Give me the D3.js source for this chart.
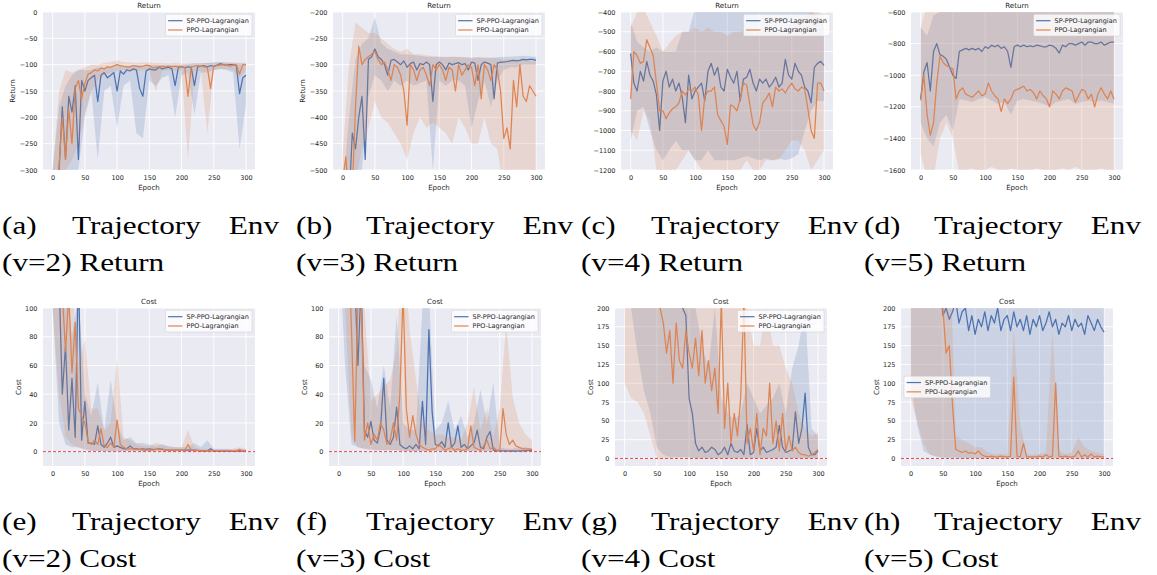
<!DOCTYPE html>
<html>
<head>
<meta charset="utf-8">
<script src="https://cdn.jsdelivr.net/npm/d3@7"></script>
<style>
  body { margin: 0; background: #fff; }
  svg { display: block; }
</style>
</head>
<body>
<div id="wrapper"></div>
<script>
// epochs of the sampled curves, and of the sampled shaded bands
const epochs = d3.range(0, 301, 5);
const bandEpochs = d3.range(0, 301, 10);
const xTicks = [0, 50, 100, 150, 200, 250, 300];
const seriesNames = ['SP-PPO-Lagrangian', 'PPO-Lagrangian'];

// ---- (a) Return, v=2
const retSp2 = [-400,-380,-300,-180,-280,-160,-190,-140,-280,-130,
  -150,-130,-125,-120,-170,-120,-115,-125,-120,-115,
  -150,-112,-118,-110,-112,-108,-110,-145,-160,-112,
  -108,-110,-110,-105,-108,-106,-105,-108,-140,-105,
  -104,-106,-104,-105,-140,-104,-103,-102,-104,-102,
  -103,-101,-98,-100,-101,-100,-100,-102,-155,-125, -120];
const retPpo2 = [-400,-380,-290,-200,-280,-185,-250,-145,-130,-165,
  -135,-118,-115,-110,-112,-106,-108,-104,-105,-102,
  -100,-102,-103,-104,-104,-102,-103,-104,-103,-101,
  -102,-106,-105,-104,-103,-104,-103,-104,-103,-104,
  -104,-105,-160,-104,-103,-102,-103,-104,-105,-145,
  -103,-102,-101,-100,-101,-103,-101,-100,-118,-100, -100];
const retSp2Lo = [-400,-400,-350,-300,-300,-200,-150,-280,-150,-140, -220,-140,-130,-230,-240,-130,-140,-125,-120,-200, -120,-115,-195,-115,-115,-110,-108,-110,-115,-260, -175];
const retSp2Hi = [-300,-180,-140,-120,-110,-110,-110,-105,-108,-105, -100,-104,-102,-100,-102,-100,-100,-100,-100,-100, -100,-99,-98,-98,-97,-96,-95,-96,-97,-98, -98];
const retPpo2Lo = [-400,-320,-300,-280,-250,-190,-150,-130,-120,-115, -112,-110,-112,-112,-110,-112,-150,-112,-110,-112, -110,-280,-112,-112,-230,-110,-108,-108,-110,-125, -110];
const retPpo2Hi = [-300,-150,-110,-115,-110,-105,-100,-100,-97,-95, -92,-95,-96,-97,-96,-96,-97,-97,-98,-97, -98,-98,-97,-97,-97,-96,-96,-96,-96,-96, -96];

// ---- (b) Return, v=3
const retSp3 = [-600,-600,-560,-430,-460,-400,-360,-480,-290,-285,
  -270,-285,-290,-300,-320,-292,-290,-295,-300,-293,
  -305,-298,-295,-310,-298,-300,-295,-300,-370,-300,
  -295,-300,-310,-297,-300,-298,-296,-300,-298,-310,
  -295,-297,-330,-300,-295,-297,-300,-365,-297,-295,
  -295,-294,-293,-292,-293,-292,-290,-291,-290,-290, -292];
const retPpo3 = [-520,-475,-560,-540,-380,-265,-300,-290,-285,-280,
  -275,-290,-300,-295,-310,-330,-300,-305,-320,-350,
  -415,-300,-310,-330,-310,-305,-320,-340,-300,-310,
  -300,-310,-330,-305,-310,-350,-300,-320,-310,-300,
  -305,-340,-300,-365,-300,-310,-330,-300,-310,-350,
  -440,-420,-460,-330,-380,-300,-360,-370,-340,-350, -360];
const retSp3Lo = [-600,-560,-540,-500,-360,-320,-330,-350,-330,-340, -330,-340,-335,-330,-500,-330,-340,-330,-330,-340, -420,-370,-330,-380,-330,-310,-305,-305,-300,-300, -300];
const retSp3Hi = [-540,-400,-290,-260,-250,-210,-260,-270,-275,-280, -280,-282,-283,-285,-285,-285,-286,-285,-286,-286, -287,-286,-287,-287,-286,-285,-285,-284,-283,-284, -285];
const retPpo3Lo = [-600,-540,-520,-460,-420,-370,-400,-410,-430,-450, -480,-430,-400,-420,-410,-420,-430,-450,-400,-420, -450,-450,-400,-450,-460,-540,-540,-560,-520,-500, -500];
const retPpo3Hi = [-470,-300,-220,-230,-240,-240,-250,-260,-270,-275, -270,-280,-280,-282,-284,-285,-285,-285,-285,-286, -287,-286,-287,-287,-288,-290,-290,-290,-290,-292, -295];

// ---- (c) Return, v=4
const retSp4 = [-610,-760,-800,-700,-750,-650,-720,-750,-820,-1000,
  -750,-700,-780,-740,-800,-760,-830,-960,-720,-840,
  -800,-780,-760,-850,-700,-660,-720,-680,-780,-800,
  -690,-730,-760,-700,-850,-740,-730,-690,-760,-800,
  -740,-760,-740,-780,-760,-730,-780,-760,-640,-720,
  -740,-660,-700,-720,-780,-800,-860,-680,-660,-650, -670];
const retPpo4 = [-840,-600,-620,-660,-650,-540,-580,-620,-760,-900,
  -900,-940,-910,-890,-880,-860,-800,-820,-790,-800,
  -780,-820,-1000,-830,-800,-800,-780,-920,-950,-980,
  -1070,-870,-880,-900,-840,-760,-770,-870,-970,-1000,
  -960,-860,-840,-810,-880,-780,-800,-790,-810,-780,
  -760,-790,-800,-780,-790,-890,-1000,-1040,-760,-760, -800];
const retSp4Lo = [-1050,-900,-880,-1000,-1100,-1150,-1100,-1050,-1100,-1100, -1150,-1150,-1100,-1150,-1150,-1150,-1150,-1140,-1130,-1140, -1150,-1140,-1150,-1140,-1150,-1140,-1120,-1000,-900,-850, -850];
const retSp4Hi = [-450,-550,-580,-600,-580,-600,-600,-600,-500,-500, -380,-380,-380,-380,-380,-380,-380,-380,-380,-380, -380,-380,-380,-380,-380,-380,-380,-380,-400,-420, -450];
const retPpo4Lo = [-1000,-1050,-900,-950,-1200,-1200,-1200,-1200,-1150,-1100, -1150,-1200,-1200,-1200,-1250,-1250,-1200,-1200,-1150,-1200, -1200,-1150,-1150,-1150,-1100,-1050,-1050,-1100,-1200,-1150, -1100];
const retPpo4Hi = [-480,-400,-380,-450,-520,-600,-560,-520,-500,-500, -480,-500,-480,-500,-500,-520,-500,-500,-480,-520, -500,-480,-480,-500,-480,-500,-450,-420,-400,-400, -420];

// ---- (d) Return, v=5
const retSp5 = [-1150,-980,-920,-1100,-850,-800,-870,-880,-900,-950,
  -1000,-1020,-850,-840,-830,-840,-830,-840,-830,-850,
  -820,-830,-810,-820,-810,-830,-820,-850,-950,-820,
  -810,-820,-810,-820,-815,-820,-810,-815,-820,-820,
  -810,-815,-830,-860,-810,-820,-800,-800,-810,-800,
  -790,-810,-790,-790,-800,-800,-790,-810,-800,-790, -790];
const retPpo5 = [-1160,-1000,-1250,-1380,-1300,-1050,-880,-920,-940,-950,
  -960,-1150,-1100,-1080,-1120,-1130,-1140,-1120,-1100,-1130,
  -1120,-1050,-1100,-1130,-1150,-1230,-1150,-1180,-1150,-1100,
  -1090,-1080,-1070,-1100,-1090,-1110,-1150,-1100,-1130,-1150,
  -1200,-1100,-1120,-1150,-1100,-1080,-1090,-1100,-1170,-1130,
  -1090,-1100,-1150,-1120,-1200,-1120,-1080,-1120,-1150,-1100, -1150];
const retSp5Lo = [-1300,-1400,-1450,-1300,-1250,-1350,-1150,-1160,-1170,-1150, -1140,-1160,-1180,-1170,-1250,-1160,-1150,-1160,-1170,-1180, -1200,-1170,-1160,-1150,-1180,-1170,-1160,-1170,-1160,-1170, -1180];
const retSp5Hi = [-700,-750,-620,-600,-580,-580,-560,-560,-560,-560, -560,-560,-560,-560,-560,-560,-560,-560,-560,-560, -560,-560,-560,-560,-560,-560,-560,-560,-560,-560, -560];
const retPpo5Lo = [-1500,-1650,-1650,-1400,-1300,-1400,-1620,-1600,-1590,-1610, -1600,-1580,-1600,-1610,-1590,-1600,-1620,-1600,-1590,-1600, -1610,-1600,-1590,-1600,-1580,-1600,-1610,-1600,-1590,-1600, -1600];
const retPpo5Hi = [-700,-550,-550,-550,-550,-550,-560,-560,-560,-560, -560,-560,-560,-560,-560,-560,-560,-560,-560,-560, -560,-560,-560,-560,-560,-560,-560,-560,-560,-560, -560];

// ---- (e) Cost, v=2
const costSp2 = [150,150,120,40,74,15,51,10,130,8,
  35,6,6,5,18,5,3,6,10,3,
  4,3,2,2,4,2,2,1.5,2,1.5,
  2,1.5,1.5,2,1.5,1.2,1,1,1,1,
  1,1,1,1,1,0.8,0.6,0.5,0.5,2,
  0.4,0.3,0.3,0.3,0.3,0.3,0.2,0.3,0.5,0.3, 0.3];
const costPpo2 = [150,150,150,110,70,110,55,90,30,25,
  20,7,5,8,5,16,4,3,6,3,
  22,5,3,2,2,2,1.5,1.5,1,1,
  1,1,1.5,1.5,2,1,1,0.8,0.8,0.8,
  0.8,1,5,1,0.8,0.7,0.5,0.5,0.5,0.5,
  0.3,0.3,0.3,0.3,0.3,0.3,0.3,0.5,1.5,0.5, 0.5];
const costSp2Lo = [100,20,5,3,3,1,0.5,0.5,0.3,0.3, 0.3,0.2,0.2,0.2,0.2,0.2,0.2,0.1,0.1,0.1, 0.1,0.1,0.1,0.1,0.1,0.1,0.1,0.1,0.1,0.1, 0.1];
const costSp2Hi = [200,200,120,80,110,40,25,48,15,50, 20,8,10,6,6,5,4,5,4,3, 3,3,6,3,8,2,2,2,1.5,2, 1.5];
const costPpo2Lo = [100,40,10,5,3,2,1,0.5,0.5,0.3, 0.3,0.2,0.2,0.2,0.2,0.2,0.1,0.1,0.1,0.1, 0.1,0.1,0.1,0.1,0.1,0.1,0.1,0.1,0.1,0.1, 0.1];
const costPpo2Hi = [200,200,150,120,60,78,30,30,15,20, 65,10,8,5,4,4,6,5,3,3, 3,15,3,2,2,1.5,1.5,1.5,2,3, 2];

// ---- (f) Cost, v=3
const costSp3 = [150,150,150,150,150,120,60,120,15,10,
  21,8,6,16,51,8,5,10,31,5,
  3,2,4,2,5,2,35,5,85,28,
  5,4,7,3,20,3,6,18,3,5,
  2,4,6,15,3,2,10,14,1,0.5,
  0.5,0.5,0.5,0.3,0.5,0.3,0.5,0.5,0.5,0.8, 0.8];
const costPpo3 = [150,150,150,150,84,7,110,110,8,20,
  5,12,8,20,15,5,8,20,8,40,
  110,30,10,25,12,5,3,2,1,2,
  2,5,3,1,2,3,1,2,1,1,
  2,18,3,2,1,4,8,2,3,1,
  1,30,12,5,8,4,3,2,2,2, 1.5];
const costSp3Lo = [150,60,5,3,2,1,1,1,1,1, 0.5,0.5,0.3,0.3,0.3,0.3,0.3,0.3,0.3,0.3, 0.3,0.3,0.3,0.3,0.3,0.2,0.2,0.2,0.2,0.2, 0.2];
const costSp3Hi = [200,200,150,150,60,50,30,60,30,95, 20,15,15,100,110,15,20,35,15,25, 10,20,43,20,48,3,2,2,3,3, 2];
const costPpo3Lo = [150,100,10,3,2,2,1,1,1,1, 0.5,0.5,0.3,0.3,0.3,0.3,0.3,0.3,0.3,0.3, 0.3,0.3,0.3,0.3,0.3,0.2,0.2,0.2,0.2,0.2, 0.2];
const costPpo3Hi = [200,200,200,150,100,35,40,45,50,70, 150,85,50,20,15,12,12,10,10,8, 20,45,15,30,10,30,90,38,20,12, 8];

// ---- (g) Cost, v=4
const costSp4 = [250,250,250,250,250,250,250,250,250,250,
  250,250,250,250,250,250,250,220,200,190,
  80,60,20,10,15,8,10,15,12,5,
  8,15,5,20,10,8,12,5,45,5,
  8,40,10,15,8,10,12,15,44,15,
  8,10,12,62,20,40,87,15,5,5, 10];
const costPpo4 = [250,250,250,250,250,250,250,250,250,250,
  250,200,180,140,170,100,180,130,120,170,
  140,120,160,110,170,100,130,90,120,60,
  210,40,100,20,60,30,80,210,20,40,
  10,60,5,40,30,100,20,50,10,60,
  10,30,10,15,8,5,5,3,5,8, 12];
const costSp4Lo = [220,200,140,90,60,15,5,2,2,2, 2,0,0,0,0,0,0,0,0,0, 0,0,0,0,0,0,0,0,0,0, 0];
const costSp4Hi = [300,300,300,300,300,300,300,300,300,300, 300,200,150,120,200,80,60,50,60,100, 80,60,70,80,100,60,120,150,200,40, 30];
const costPpo4Lo = [100,80,75,60,30,0,0,0,0,0, 0,0,0,0,0,0,0,0,0,0, 0,0,0,0,0,0,0,0,0,0, 0];
const costPpo4Hi = [300,300,300,300,300,300,300,300,300,300, 300,300,300,300,300,300,250,200,300,200, 150,150,200,150,150,120,100,60,40,30, 35];

// ---- (h) Cost, v=5
const costSp5 = [250,250,250,250,250,250,250,250,250,250,
  190,200,185,195,210,180,195,200,170,190,
  165,185,175,195,170,190,180,200,170,185,
  190,170,195,175,185,170,190,165,185,175,
  190,170,180,195,175,185,165,180,175,190,
  170,185,175,180,165,190,180,170,185,175, 168];
const costPpo5 = [250,250,250,250,250,250,250,250,250,250,
  200,140,150,70,12,10,8,10,7,8,
  6,10,5,3,2,3,2,2,3,2,
  2,3,108,3,2,20,2,2,2,2,
  3,2,5,2,3,100,3,2,3,2,
  2,3,10,2,5,2,6,2,3,2, 2];
const costSp5Lo = [100,45,10,5,3,0,0,0,0,0, 0,0,0,0,0,0,0,0,0,0, 0,0,0,0,0,0,0,0,0,0, 0];
const costSp5Hi = [300,300,300,300,300,300,300,300,300,300, 300,300,300,300,300,300,300,300,300,300, 300,300,300,300,300,300,300,300,300,300, 300];
const costPpo5Lo = [80,50,20,5,2,2,2,2,1,1, 0,0,0,0,0,0,0,0,0,0, 0,0,0,0,0,0,0,0,0,0, 0];
const costPpo5Hi = [300,300,300,300,300,300,300,30,25,20, 15,15,8,6,6,6,170,45,6,5, 6,8,170,10,6,8,28,15,10,8, 6];

const colors = ['#4c72b0', '#dd8452'];
const W = 212, H = 158;
const textColor = '#262626';

const panels = [
  { id: 'a', title: 'Return', left: 43,  top: 12,  yDomain: [-300, 0],     yTicks: d3.range(-300, 1, 50),    sp: retSp2, ppo: retPpo2, spLo: retSp2Lo, spHi: retSp2Hi, ppoLo: retPpo2Lo, ppoHi: retPpo2Hi },
  { id: 'b', title: 'Return', left: 333, top: 12,  yDomain: [-500, -200],  yTicks: d3.range(-500, -199, 50),  sp: retSp3, ppo: retPpo3, spLo: retSp3Lo, spHi: retSp3Hi, ppoLo: retPpo3Lo, ppoHi: retPpo3Hi },
  { id: 'c', title: 'Return', left: 621, top: 12,  yDomain: [-1200, -400], yTicks: d3.range(-1200, -399, 100), sp: retSp4, ppo: retPpo4, spLo: retSp4Lo, spHi: retSp4Hi, ppoLo: retPpo4Lo, ppoHi: retPpo4Hi, cutLabel: true },
  { id: 'd', title: 'Return', left: 911, top: 12,  yDomain: [-1600, -600], yTicks: d3.range(-1600, -599, 200), sp: retSp5, ppo: retPpo5, spLo: retSp5Lo, spHi: retSp5Hi, ppoLo: retPpo5Lo, ppoHi: retPpo5Hi, cutLabel: true },
  { id: 'e', title: 'Cost', left: 43,  top: 308, yDomain: [-10, 100], yTicks: d3.range(0, 101, 20), sp: costSp2, ppo: costPpo2, spLo: costSp2Lo, spHi: costSp2Hi, ppoLo: costPpo2Lo, ppoHi: costPpo2Hi, limit: true },
  { id: 'f', title: 'Cost', left: 329, top: 308, yDomain: [-10, 100], yTicks: d3.range(0, 101, 20), sp: costSp3, ppo: costPpo3, spLo: costSp3Lo, spHi: costSp3Hi, ppoLo: costPpo3Lo, ppoHi: costPpo3Hi, limit: true },
  { id: 'g', title: 'Cost', left: 615, top: 308, yDomain: [-10, 200], yTicks: d3.range(0, 201, 25), sp: costSp4, ppo: costPpo4, spLo: costSp4Lo, spHi: costSp4Hi, ppoLo: costPpo4Lo, ppoHi: costPpo4Hi, limit: true },
  { id: 'h', title: 'Cost', left: 901, top: 308, yDomain: [-10, 200], yTicks: d3.range(0, 201, 25), sp: costSp5, ppo: costPpo5, spLo: costSp5Lo, spHi: costSp5Hi, ppoLo: costPpo5Lo, ppoHi: costPpo5Hi, limit: true, legendLeft: true },
];

const captions = [
  { label: '(a)', second: '(v=2) Return', x: 2,   y: 234 },
  { label: '(b)', second: '(v=3) Return', x: 296, y: 234 },
  { label: '(c)', second: '(v=4) Return', x: 581, y: 234 },
  { label: '(d)', second: '(v=5) Return', x: 864, y: 234 },
  { label: '(e)', second: '(v=2) Cost',   x: 2,   y: 529.5 },
  { label: '(f)', second: '(v=3) Cost',   x: 296, y: 529.5 },
  { label: '(g)', second: '(v=4) Cost',   x: 581, y: 529.5 },
  { label: '(h)', second: '(v=5) Cost',   x: 864, y: 529.5 },
];

const svg = d3.select('#wrapper').append('svg')
  .attr('width', 1157)
  .attr('height', 575);

function drawPanel(p) {
  const g = svg.append('g').attr('transform', `translate(${p.left},${p.top})`);
  const x = d3.scaleLinear().domain([-14.95, 313.95]).range([0, W]);
  const y = d3.scaleLinear().domain(p.yDomain).range([H, 0]);

  g.append('rect').attr('width', W).attr('height', H).attr('fill', '#eaeaf2');

  // white grid
  g.append('g').selectAll('line').data(xTicks).join('line')
    .attr('x1', d => x(d)).attr('x2', d => x(d)).attr('y1', 0).attr('y2', H)
    .attr('stroke', '#fff').attr('stroke-width', 0.9);
  g.append('g').selectAll('line').data(p.yTicks).join('line')
    .attr('x1', 0).attr('x2', W).attr('y1', d => y(d)).attr('y2', d => y(d))
    .attr('stroke', '#fff').attr('stroke-width', 0.9);

  const clipId = 'clip-' + p.id;
  g.append('clipPath').attr('id', clipId).append('rect').attr('width', W).attr('height', H);
  const plot = g.append('g').attr('clip-path', `url(#${clipId})`);

  const area = (lo, hi) => d3.area()
    .x((d, i) => x(bandEpochs[i]))
    .y0((d, i) => y(lo[i]))
    .y1((d, i) => y(hi[i]));
  const line = d3.line().x((d, i) => x(epochs[i])).y(d => y(d));

  const series = [
    { vals: p.sp, lo: p.spLo, hi: p.spHi, color: colors[0] },
    { vals: p.ppo, lo: p.ppoLo, hi: p.ppoHi, color: colors[1] },
  ];
  series.forEach(s => {
    plot.append('path').attr('d', area(s.lo, s.hi)(s.lo))
      .attr('fill', s.color).attr('fill-opacity', 0.2);
    plot.append('path').attr('d', line(s.vals))
      .attr('fill', 'none').attr('stroke', s.color).attr('stroke-width', 1.25)
      .attr('stroke-linejoin', 'round');
  });

  if (p.limit) {
    plot.append('line')
      .attr('x1', 0).attr('x2', W).attr('y1', y(0)).attr('y2', y(0))
      .attr('stroke', '#e8454a').attr('stroke-width', 1)
      .attr('stroke-dasharray', '3,2');
  }

  // axes (tick labels only, seaborn darkgrid style)
  const xAxis = g.append('g').attr('transform', `translate(0,${H})`)
    .call(d3.axisBottom(x).tickValues(xTicks).tickFormat(d3.format('d')).tickSize(0).tickPadding(5.3));
  const yAxis = g.append('g')
    .call(d3.axisLeft(y).tickValues(p.yTicks).tickFormat(d3.format('d')).tickSize(0).tickPadding(5.5));
  [xAxis, yAxis].forEach(a => {
    a.select('.domain').remove();
    a.attr('font-family', 'DejaVu Sans').attr('font-size', 6.5).style('color', textColor);
  });

  const label = (txt) => g.append('text')
    .attr('font-family', 'DejaVu Sans').attr('font-size', 7.1)
    .attr('fill', textColor).attr('text-anchor', 'middle').text(txt);

  label(p.title).attr('x', W / 2).attr('y', -3.7);
  label('Epoch').attr('x', W / 2).attr('y', H + 19.6);

  const bb = yAxis.node().getBBox();
  const lx = bb.x - 4.4;
  const yl = label(p.title).attr('transform', `translate(${lx},${H / 2}) rotate(-90)`);
  if (p.cutLabel) {
    // the left half of this axis label is trimmed in the original figure
    const cid = 'lab-' + p.id;
    g.append('clipPath').attr('id', cid).append('rect')
      .attr('x', lx - 3).attr('y', 0).attr('width', 10).attr('height', H);
    yl.attr('clip-path', `url(#${cid})`);
  }

  // legend
  const bw = 86.5, bh = 21.7;
  const bx = p.legendLeft ? 3 : W - 3 - bw;
  const by = p.legendLeft ? (H - bh) / 2 : 2.3;
  const lg = g.append('g').attr('transform', `translate(${bx},${by})`);
  lg.append('rect').attr('width', bw).attr('height', bh).attr('rx', 1.5)
    .attr('fill', '#fff').attr('fill-opacity', 0.8)
    .attr('stroke', '#cccccc').attr('stroke-width', 0.5);
  seriesNames.forEach((name, i) => {
    const cy = 6.4 + i * 9.3;
    lg.append('line').attr('x1', 2.6).attr('x2', 17).attr('y1', cy).attr('y2', cy)
      .attr('stroke', colors[i]).attr('stroke-width', 1.2);
    lg.append('text').attr('x', 21).attr('y', cy).attr('dy', '0.35em')
      .attr('font-family', 'DejaVu Sans').attr('font-size', 6.5)
      .attr('fill', textColor).text(name);
  });
}

panels.forEach(drawPanel);

// sub-figure captions
function drawCaption(c) {
  const g = svg.append('g').attr('font-family', 'Liberation Serif, serif')
    .attr('font-size', 26).attr('fill', '#000');
  const put = (txt, x, y, anchor) => g.append('text')
    .attr('transform', `translate(${x},${y}) scale(1.2,1)`)
    .attr('text-anchor', anchor).text(txt);
  put(c.label, c.x, c.y, 'start');
  put('Trajectory', c.x + 70, c.y, 'start');
  put('Env', c.x + 277, c.y, 'end');
  put(c.second, c.x, c.y + 37.3, 'start');
}
captions.forEach(drawCaption);
</script>
</body>
</html>
